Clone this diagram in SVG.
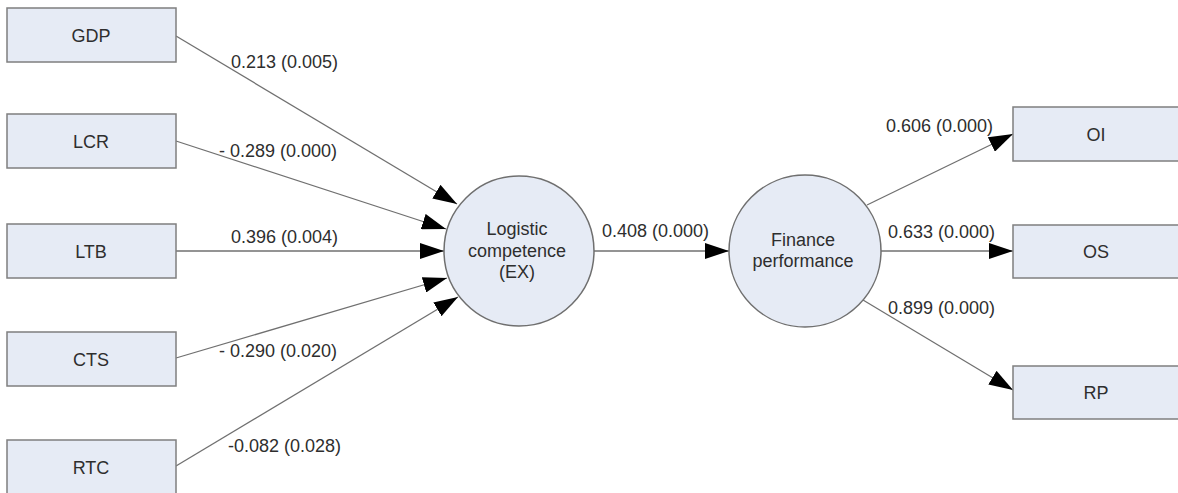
<svg xmlns="http://www.w3.org/2000/svg" width="1178" height="493" viewBox="0 0 1178 493">
<style>
.box{fill:#E6EBF5;stroke:#7F7F7F;stroke-width:1.5}
.lat{fill:#E6EBF5;stroke:#6F6F6F;stroke-width:1.5}
.t{font-family:"Liberation Sans",Arial,sans-serif;font-size:18px;fill:#2E2E2E}
.c{text-anchor:middle}
.e{stroke:#707070;stroke-width:1.3;fill:none;marker-end:url(#ah)}
</style>
<defs>
<marker id="ah" markerUnits="userSpaceOnUse" markerWidth="24" markerHeight="16" refX="24" refY="8" orient="auto" viewBox="0 0 24 16">
<path d="M0,0 L24,8 L0,16 z" fill="#000"/>
</marker>
</defs>
<rect width="1178" height="493" fill="#fff"/>
<g id="connectors">
<line class="e" x1="176" y1="36" x2="457" y2="204"/>
<line class="e" x1="176" y1="141" x2="446" y2="229"/>
<line class="e" x1="176" y1="251" x2="444" y2="251"/>
<line class="e" x1="176" y1="358" x2="447" y2="278"/>
<line class="e" x1="176" y1="466" x2="458" y2="297"/>
<line class="e" x1="594" y1="251" x2="729" y2="251"/>
<line class="e" x1="867" y1="205" x2="1013" y2="134"/>
<line class="e" x1="880" y1="251" x2="1013" y2="251"/>
<line class="e" x1="863" y1="300" x2="1013" y2="390"/>
<text class="t" x="231" y="68">0.213 (0.005)</text>
<text class="t" x="219" y="157">- 0.289 (0.000)</text>
<text class="t" x="231" y="243">0.396 (0.004)</text>
<text class="t" x="219" y="357">- 0.290 (0.020)</text>
<text class="t" x="228" y="452">-0.082 (0.028)</text>
<text class="t" x="602" y="237">0.408 (0.000)</text>
<text class="t" x="886" y="132">0.606 (0.000)</text>
<text class="t" x="888" y="238">0.633 (0.000)</text>
<text class="t" x="888" y="314">0.899 (0.000)</text>
</g>
<g id="GDP"><rect class="box" x="7" y="8" width="169" height="54"/><text class="t c" x="91" y="42">GDP</text></g>
<g id="LCR"><rect class="box" x="7" y="114" width="169" height="54"/><text class="t c" x="91" y="148">LCR</text></g>
<g id="LTB"><rect class="box" x="7" y="224" width="169" height="54"/><text class="t c" x="91" y="258">LTB</text></g>
<g id="CTS"><rect class="box" x="7" y="332" width="169" height="54"/><text class="t c" x="91" y="366">CTS</text></g>
<g id="RTC"><rect class="box" x="7" y="440" width="169" height="60"/><text class="t c" x="91" y="474">RTC</text></g>
<g id="EX"><circle class="lat" cx="519" cy="251" r="75"/>
<text class="t c" x="517" y="235">Logistic</text>
<text class="t c" x="517" y="257">competence</text>
<text class="t c" x="517" y="278">(EX)</text></g>
<g id="FP"><circle class="lat" cx="805" cy="251" r="76"/>
<text class="t c" x="803" y="246">Finance</text>
<text class="t c" x="803" y="267">performance</text></g>
<g id="OI"><rect class="box" x="1013" y="107" width="180" height="54"/><text class="t c" x="1096" y="141">OI</text></g>
<g id="OS"><rect class="box" x="1013" y="225" width="180" height="53"/><text class="t c" x="1096" y="258">OS</text></g>
<g id="RP"><rect class="box" x="1013" y="366" width="180" height="53"/><text class="t c" x="1096" y="399">RP</text></g>
</svg>
